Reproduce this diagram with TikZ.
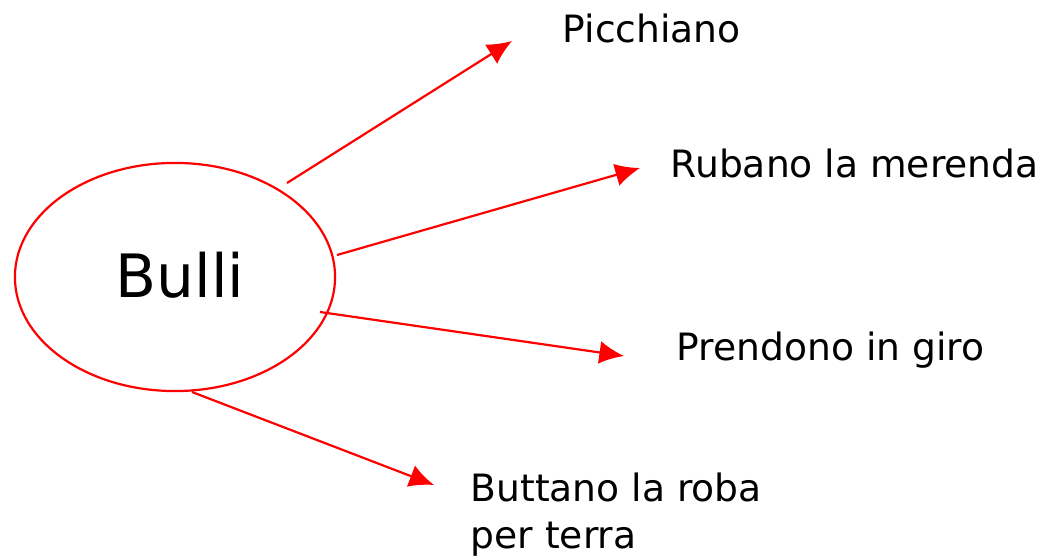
\documentclass[tikz,border=0pt]{standalone}
\usepackage{fontspec}
\setmainfont{DejaVu Sans}
\usetikzlibrary{shapes.geometric,arrows.meta}
\begin{document}
\begin{tikzpicture}[x=0.01cm,y=-0.01cm,
  bubble/.style={draw=red,line width=0.22mm,ellipse,inner sep=0pt,minimum width=3.2cm,minimum height=2.28cm},
  lbl/.style={anchor=west,inner sep=0pt,font=\fontsize{10.7}{13.5}\selectfont},
  conn/.style={draw=red,line width=0.22mm,-{Latex[length=7pt,width=6.5pt]}}]
\useasboundingbox (0,0) rectangle (1043,558);
\node[bubble] (ell) at (175,277) {};
\node[inner sep=0pt,font=\fontsize{17}{20}\selectfont] (bulli) at (180,275) {Bulli};
\coordinate (s1) at (287,183);
\coordinate (s2) at (337,255);
\coordinate (s3) at (320,312);
\coordinate (s4) at (192,392);
\coordinate (e1) at (512,41);
\coordinate (e2) at (640,168);
\coordinate (e3) at (624,356);
\coordinate (e4) at (434,485);
\node[lbl] (t1) at (562,28) {Picchiano};
\node[lbl] (t2) at (670,163) {Rubano la merenda};
\node[lbl] (t3) at (676,350) {Prendono in giro};
\node[lbl,align=left,anchor=north west] (t4) at (470,472) {Buttano la roba\\per terra};
\draw[conn] (s1) -- (e1);
\draw[conn] (s2) -- (e2);
\draw[conn] (s3) -- (e3);
\draw[conn] (s4) -- (e4);
\end{tikzpicture}
\end{document}
